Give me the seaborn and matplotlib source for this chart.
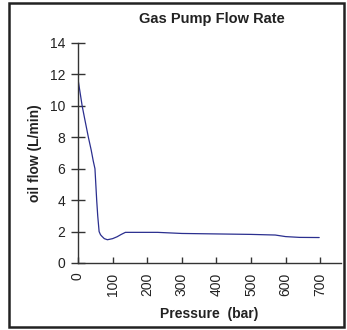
import matplotlib
matplotlib.use("Agg")
import matplotlib.pyplot as plt
import seaborn as sns
import pandas as pd
from matplotlib.patches import Rectangle

# Measured oil flow of the gas pump against discharge pressure
pressure = [0, 12, 20, 30, 38, 44, 49, 51, 54, 57, 61, 65, 69, 76, 85,
            100, 113, 125, 137, 230, 300, 400, 500, 570, 600, 640, 697]
flow = [11.7, 10.0, 9.1, 8.0, 7.2, 6.5, 6.0, 5.2, 4.0, 3.0, 2.0, 1.8,
        1.7, 1.55, 1.48, 1.55, 1.67, 1.82, 1.95, 1.95, 1.88, 1.85, 1.82,
        1.78, 1.68, 1.63, 1.62]
x_ticks = [0, 100, 200, 300, 400, 500, 600, 700]
y_ticks = [0, 2, 4, 6, 8, 10, 12, 14]

df = pd.DataFrame({"Pressure": pressure, "Flow": flow})

sns.set_style("ticks")
plt.rcParams["font.family"] = ["Liberation Sans", "DejaVu Sans"]

fig = plt.figure(figsize=(3.47, 3.30), dpi=100)
ax = fig.add_axes([78 / 347, 1 - 263 / 330, 263 / 347, 220 / 330])

sns.lineplot(data=df, x="Pressure", y="Flow", ax=ax, color="#2b2f8f",
             linewidth=0.9)

ax.set_xlim(0, 760)
ax.set_ylim(0, 14)
ax.set_xticks(x_ticks)
ax.set_yticks(y_ticks)
ax.set_xticklabels([str(v) for v in x_ticks], rotation=90)

for side in ("top", "right"):
    ax.spines[side].set_visible(False)
for side in ("left", "bottom"):
    ax.spines[side].set_color("#333333")
    ax.spines[side].set_linewidth(1.0)

ax.tick_params(axis="y", direction="inout", length=10, width=1,
               color="#333333", labelsize=10, labelcolor="#222222", pad=4)
ax.tick_params(axis="x", direction="in", length=4, width=1,
               color="#333333", labelsize=10, labelcolor="#222222", pad=7)

ax.set_xlabel("Pressure  (bar)", fontsize=10, fontweight="bold",
              color="#222222", labelpad=8)
ax.set_ylabel("oil flow (L/min)", fontsize=10, fontweight="bold",
              color="#222222", labelpad=6)
fig.text(212 / 347, 1 - 19 / 330, "Gas Pump Flow Rate", ha="center",
         va="center", fontsize=10.5, fontweight="bold", color="#222222")

# Frame around the whole chart
fig.patches.append(Rectangle((9 / 347, 3 / 330), 335 / 347, 324 / 330,
                             transform=fig.transFigure, fill=False,
                             edgecolor="#222222", linewidth=1.8))

fig.savefig("out.png", dpi=100)
